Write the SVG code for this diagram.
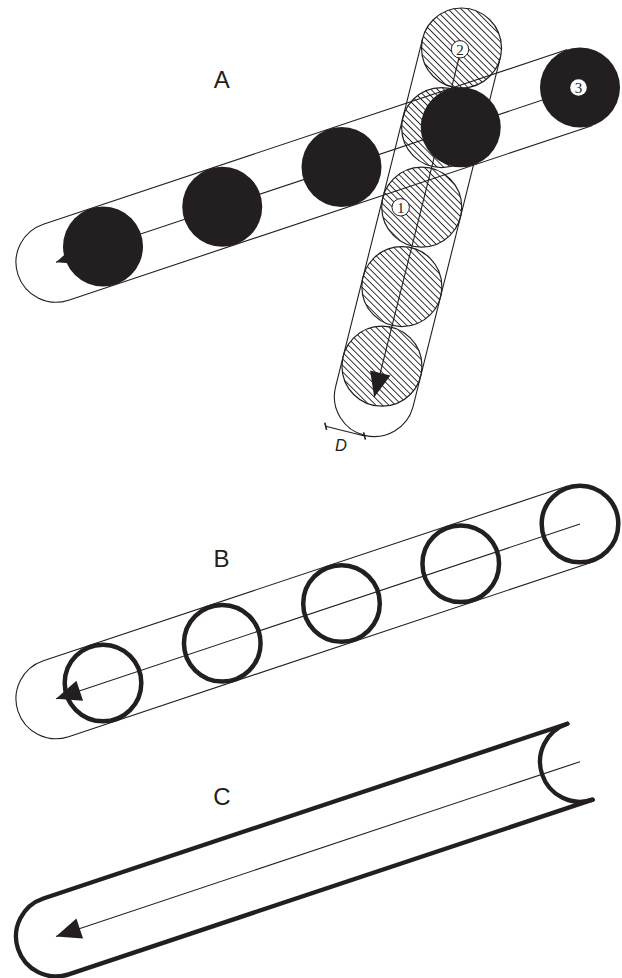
<svg xmlns="http://www.w3.org/2000/svg" width="622" height="978" viewBox="0 0 622 978">
<style>
.thin{fill:none;stroke:#231f20;stroke-width:1.1}
.thick{fill:none;stroke:#231f20;stroke-width:4.3;stroke-linecap:round;stroke-linejoin:round}
.ring{fill:none;stroke:#231f20;stroke-width:4.5}
.solid{fill:#231f20}
.hatchc{fill:url(#hatch);stroke:#231f20;stroke-width:1.2}
.tag{fill:#fff;stroke:#231f20;stroke-width:1}
.num{font-family:"Liberation Serif",serif;font-size:15px;fill:#231f20;text-anchor:middle}
.lbl{font-family:"Liberation Sans",Arial,sans-serif;font-size:24px;fill:#231f20;text-anchor:middle}
.dim{font-family:"Liberation Sans",Arial,sans-serif;font-size:16.5px;font-style:italic;fill:#231f20;text-anchor:middle}
</style>
<defs>
<pattern id="hatch" patternUnits="userSpaceOnUse" width="4.6" height="4.6" patternTransform="rotate(45)">
<rect width="4.6" height="4.6" fill="#fff"/>
<line x1="0" y1="2.3" x2="4.6" y2="2.3" stroke="#231f20" stroke-width="0.9"/>
</pattern>
<marker id="arr" markerUnits="userSpaceOnUse" markerWidth="30" markerHeight="26" viewBox="-28 -13 30 26" refX="0" refY="0" orient="auto">
<path d="M0,0 L-25,-10.5 L-25,10.5 Z" fill="#231f20"/>
</marker>
</defs>
<rect width="622" height="978" fill="#fff"/>

<!-- Panel A -->
<g id="panelA">
<g id="hatched-circles">
<circle id="h0" class="hatchc" cx="461.5" cy="48" r="40"/>
<circle id="h1" class="hatchc" cx="441.62" cy="127.55" r="40"/>
<circle id="h2" class="hatchc" cx="421.73" cy="207.1" r="40"/>
<circle id="h3" class="hatchc" cx="401.85" cy="286.64" r="40"/>
<circle id="h4" class="hatchc" cx="381.96" cy="366.19" r="40"/>
</g>
<g id="tubeA-outline">
<path class="thin" d="M567.35,49.55 L43.35,224.25 A40,40 0 0 0 68.65,300.15 L592.65,125.45"/>
</g>
<g id="tubeV-outline">
<path class="thin" d="M422.7,38.3 L335.4,387.54 A40,40 0 0 0 413,406.94 L500.3,57.7"/>
</g>
<g id="connectorsA">
<line class="thin" x1="461.5" y1="48" x2="374.2" y2="397.24" marker-end="url(#arr)"/>
<line class="thin" x1="580" y1="87.5" x2="56" y2="262.2" marker-end="url(#arr)"/>
</g>
<g id="dimD">
<line class="thin" x1="325.7" y1="426.3" x2="364.5" y2="436"/>
<line x1="324.8" y1="422.7" x2="326.6" y2="429.9" stroke="#231f20" stroke-width="1.6"/>
<line x1="363.6" y1="432.4" x2="365.4" y2="439.6" stroke="#231f20" stroke-width="1.6"/>
<text class="dim" x="341" y="451">D</text>
</g>
<g id="black-circles">
<circle id="b1" class="solid" cx="103" cy="246.5" r="40"/>
<circle id="b2" class="solid" cx="222.25" cy="206.75" r="40"/>
<circle id="b3" class="solid" cx="341.5" cy="167" r="40"/>
<circle id="b4" class="solid" cx="460.75" cy="127.25" r="40"/>
<circle id="b5" class="solid" cx="580" cy="87.5" r="40"/>
</g>
<g id="tag1"><circle class="tag" cx="400.7" cy="207.3" r="8.7"/><text class="num" x="400.7" y="212.6">1</text></g>
<g id="tag2"><circle class="tag" cx="460" cy="49.3" r="8.7"/><text class="num" x="460" y="54.6">2</text></g>
<g id="tag3"><circle cx="578.5" cy="87.5" r="8.3" fill="#fff"/><text class="num" x="578.5" y="92.8">3</text></g>
<text id="labelA" class="lbl" x="221.7" y="88.3">A</text>
</g>

<!-- Panel B -->
<g id="panelB">
<g id="tubeB-outline">
<path class="thin" d="M567.35,486.05 L43.35,660.75 A40,40 0 0 0 68.65,736.65 L592.65,561.95"/>
</g>
<g id="rings">
<circle id="r1" class="ring" cx="103" cy="683" r="38.3"/>
<circle id="r2" class="ring" cx="222.25" cy="643.25" r="38.3"/>
<circle id="r3" class="ring" cx="341.5" cy="603.5" r="38.3"/>
<circle id="r4" class="ring" cx="460.75" cy="563.75" r="38.3"/>
<circle id="r5" class="ring" cx="580" cy="524" r="38.3"/>
</g>
<g id="connectorsB">
<line class="thin" x1="580" y1="524" x2="56" y2="698.7" marker-end="url(#arr)"/>
</g>
<text id="labelB" class="lbl" x="221.5" y="567.3">B</text>
</g>

<!-- Panel C -->
<g id="panelC">
<g id="tubeC-outline">
<path class="thick" d="M567.35,723.75 L43.35,898.45 A40,40 0 0 0 68.65,974.35 L592.65,799.65"/>
<path class="thick" d="M567.35,723.75 A40,40 0 0 0 592.65,799.65"/>
</g>
<g id="connectorsC">
<line class="thin" x1="580" y1="761.7" x2="56" y2="936.4" marker-end="url(#arr)"/>
</g>
<text id="labelC" class="lbl" x="221.8" y="804.5">C</text>
</g>
</svg>
